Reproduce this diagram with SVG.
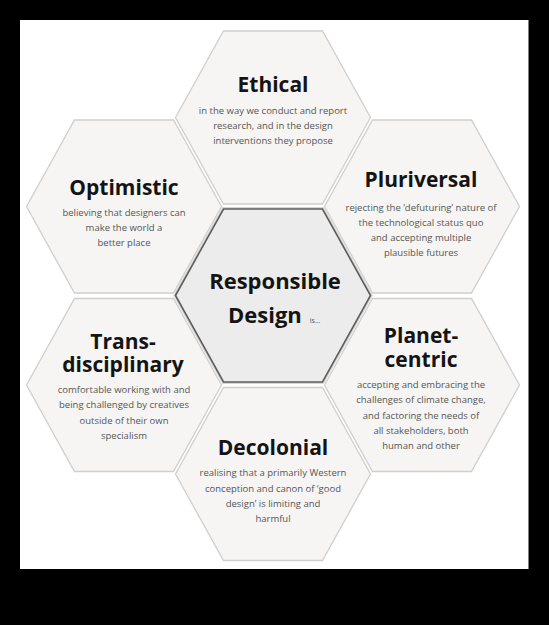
<svg xmlns="http://www.w3.org/2000/svg" width="549" height="625" viewBox="0 0 549 625">
<defs>
<polygon id="hex" points="-97.5,0 -49.5,-86.5 49.5,-86.5 97.5,0 49.5,86.5 -49.5,86.5"/>
<style>
.outer{fill:#f6f5f3;stroke:#cfcfcf;stroke-width:1.3}
.halo{fill:none;stroke:#d6d6d6;stroke-width:4}
.core{fill:#ececec;stroke:#5e5e5e;stroke-width:1.6}
.t{font-family:"Open Sans","Noto Sans",sans-serif;font-weight:700;font-size:21px;fill:#141414;text-anchor:middle}
.b{font-family:"Open Sans","Noto Sans",sans-serif;font-size:9.5px;fill:#555;text-anchor:middle}
</style>
</defs>
<rect x="0" y="0" width="549" height="625" fill="#000"/>
<rect x="20" y="20" width="508.5" height="549" fill="#fff"/>

<g id="ethical">
<use href="#hex" x="273" y="117.5" class="outer"/>
<text class="t" x="273" y="92">Ethical</text>
<text class="b" x="273" y="114">in the way we conduct and report</text>
<text class="b" x="273" y="129">research, and in the design</text>
<text class="b" x="273" y="144">interventions they propose</text>
</g>

<g id="optimistic">
<use href="#hex" x="124" y="206.5" class="outer"/>
<text class="t" x="124" y="195">Optimistic</text>
<text class="b" x="124" y="216">believing that designers can</text>
<text class="b" x="124" y="231">make the world a</text>
<text class="b" x="124" y="246">better place</text>
</g>

<g id="pluriversal">
<use href="#hex" x="422" y="206.5" class="outer"/>
<text class="t" x="421" y="187">Pluriversal</text>
<text class="b" x="421" y="211">rejecting the ‘defuturing’ nature of</text>
<text class="b" x="421" y="226">the technological status quo</text>
<text class="b" x="421" y="241">and accepting multiple</text>
<text class="b" x="421" y="256">plausible futures</text>
</g>

<g id="responsible-design">
<use href="#hex" x="273" y="295.5" class="halo"/>
<use href="#hex" x="273" y="295.5" class="core"/>
<text class="t" x="275" y="289" style="font-size:22px">Responsible</text>
<text class="t" x="228" y="323" style="font-size:22px;text-anchor:start">Design<tspan dx="8" style="font-size:7px;font-weight:400;fill:#555">is...</tspan></text>
</g>

<g id="transdisciplinary">
<use href="#hex" x="124" y="385" class="outer"/>
<text class="t"><tspan x="123" y="349">Trans-</tspan><tspan x="123" y="372">disciplinary</tspan></text>
<text class="b" x="124" y="393">comfortable working with and</text>
<text class="b" x="124" y="408">being challenged by creatives</text>
<text class="b" x="124" y="424">outside of their own</text>
<text class="b" x="124" y="439">specialism</text>
</g>

<g id="planet-centric">
<use href="#hex" x="422" y="385" class="outer"/>
<text class="t"><tspan x="421" y="343">Planet-</tspan><tspan x="421" y="366.5">centric</tspan></text>
<text class="b" x="421" y="388">accepting and embracing the</text>
<text class="b" x="421" y="403">challenges of climate change,</text>
<text class="b" x="421" y="418.5">and factoring the needs of</text>
<text class="b" x="421" y="434">all stakeholders, both</text>
<text class="b" x="421" y="449">human and other</text>
</g>

<g id="decolonial">
<use href="#hex" x="273" y="474" class="outer"/>
<text class="t" x="273" y="455">Decolonial</text>
<text class="b" x="273" y="476">realising that a primarily Western</text>
<text class="b" x="273" y="491.5">conception and canon of ‘good</text>
<text class="b" x="273" y="506.5">design’ is limiting and</text>
<text class="b" x="273" y="521.5">harmful</text>
</g>
</svg>
